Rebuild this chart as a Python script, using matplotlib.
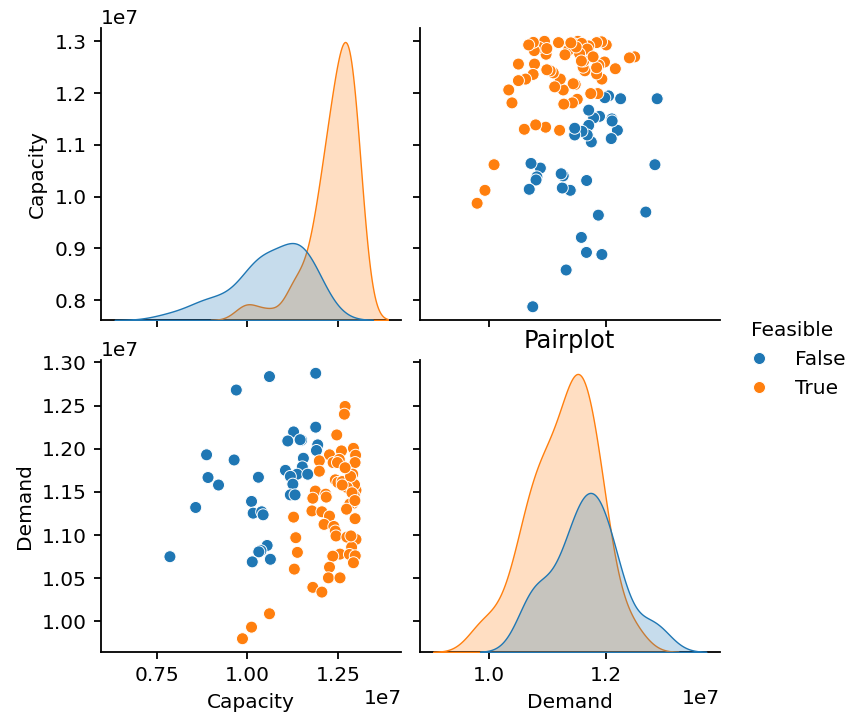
import numpy as np
import pandas as pd
import matplotlib
matplotlib.use("Agg")
import matplotlib.pyplot as plt
import seaborn as sns

# Scenario values, in units of 1e7
capacity_false = [1.0615, 1.189, 0.970, 1.189, 1.128, 1.112, 1.150, 1.1945, 1.191, 0.888,
                  0.964, 1.155, 1.152, 1.1055, 1.1376, 1.167, 1.119, 1.126, 1.031, 0.892,
                  0.921, 1.119, 1.132, 1.012, 0.858, 1.0165, 1.040, 1.044, 1.055, 1.038,
                  1.032, 0.787, 1.014, 1.064, 1.146]
demand_false = [1.2836, 1.2874, 1.268, 1.225, 1.2195, 1.209, 1.210, 1.2045, 1.198, 1.193,
                1.187, 1.189, 1.179, 1.175, 1.1705, 1.1705, 1.168, 1.159, 1.167, 1.1667,
                1.158, 1.1466, 1.1466, 1.139, 1.132, 1.1254, 1.127, 1.1235, 1.088, 1.082,
                1.0806, 1.075, 1.069, 1.072, 1.2105]

capacity_true = [1.270, 1.268, 1.247, 1.260, 1.293, 1.227, 1.299, 1.2975, 1.237, 1.254,
                 1.249, 1.199, 1.199, 1.291, 1.243, 1.250, 1.282, 1.300, 1.188, 1.2165,
                 1.295, 1.181, 1.218, 1.291, 1.283, 1.1786, 1.206, 1.227, 1.128, 1.2975,
                 1.212, 1.239, 1.243, 1.245, 1.275, 1.300, 1.134, 1.288, 1.1385, 1.256,
                 1.236, 1.282, 1.298, 1.293, 1.227, 1.130, 1.224, 1.256, 1.181, 1.206,
                 1.0615, 1.012, 0.987, 1.296, 1.262, 1.286,
                 1.285, 1.276, 1.289, 1.297, 1.270, 1.274, 1.262]
demand_true = [1.249, 1.240, 1.216, 1.1975, 1.2005, 1.193, 1.1925, 1.184, 1.184, 1.1877,
               1.184, 1.186, 1.174, 1.1706, 1.164, 1.161, 1.159, 1.152, 1.151, 1.1474,
               1.146, 1.1427, 1.144, 1.1365, 1.136, 1.128, 1.127, 1.122, 1.1208, 1.119,
               1.1124, 1.110, 1.1047, 1.099, 1.0977, 1.095, 1.097, 1.086, 1.080, 1.078,
               1.0756, 1.0776, 1.076, 1.068, 1.0628, 1.0606, 1.0505, 1.0505, 1.0395, 1.034,
               1.0089, 0.9934, 0.980, 1.1585, 1.162, 1.099,
               1.168, 1.155, 1.149, 1.140, 1.178, 1.130, 1.158]

feasible_labels = [False, True]

# Scale matplotlib defaults for a denser output resolution
k = 1.44
plt.rcParams.update({
    "font.size": 14.5,
    "axes.linewidth": 1.3,
    "lines.linewidth": 1.6,
    "xtick.major.size": 3.5 * k,
    "ytick.major.size": 3.5 * k,
    "xtick.major.width": 1.3,
    "ytick.major.width": 1.3,
    "xtick.major.pad": 3.5 * k,
    "ytick.major.pad": 3.5 * k,
    "axes.labelpad": 4.0 * k,
    "axes.titlepad": 6.0 * k,
})

df = pd.DataFrame({
    "Capacity": np.array(capacity_false + capacity_true) * 1e7,
    "Demand": np.array(demand_false + demand_true) * 1e7,
    "Feasible": [feasible_labels[0]] * len(capacity_false) + [feasible_labels[1]] * len(capacity_true),
})

g = sns.pairplot(df, hue="Feasible", height=2.5, plot_kws={"s": (6 * k) ** 2})
fig = g.figure
fig.set_size_inches(8.49, 7.19)
fig.subplots_adjust(left=0.119, right=0.848, bottom=0.0932, top=0.961,
                    wspace=0.06, hspace=0.137)
g._legend.set_bbox_to_anchor((1.0 + 15 / 849, 0.5), transform=fig.transFigure)
g.axes[1, 1].set_title("Pairplot")

fig.savefig("out.png", dpi=100)
